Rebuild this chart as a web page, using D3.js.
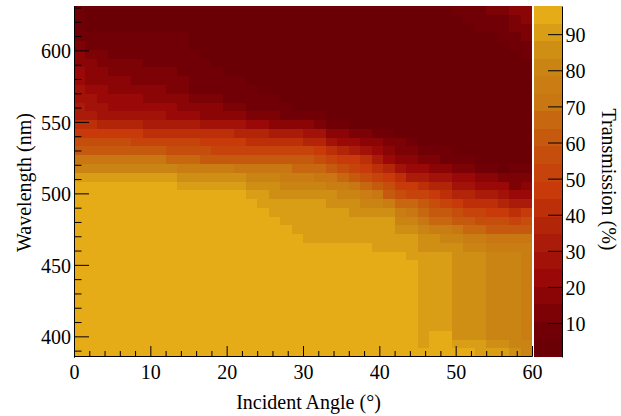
<!DOCTYPE html>
<html>
<head>
<meta charset="utf-8">
<script src="https://cdn.jsdelivr.net/npm/d3@7"></script>
<style>
  html, body { margin: 0; padding: 0; background: #fff; }
  svg { display: block; }
  text { font-family: "Liberation Serif", "Times New Roman", serif; font-size: 20px; fill: #000; }
</style>
</head>
<body>
<svg id="chart" width="621" height="416"></svg>
<script>
// Incident angle bin centres (degrees)
const angles = [0.75, 2.25, 3.75, 5.25, 6.75, 8.25, 9.75, 11.25, 12.75, 14.25,
  15.75, 17.25, 18.75, 20.25, 21.75, 23.25, 24.75, 26.25, 27.75, 29.25,
  30.75, 32.25, 33.75, 35.25, 36.75, 38.25, 39.75, 41.25, 42.75, 44.25,
  45.75, 47.25, 48.75, 50.25, 51.75, 53.25, 54.75, 56.25, 57.75, 59.25];

// Wavelength bin centres (nm), one per row of the transmission table, longest first
const wavelengths = [628.0, 621.9, 615.7, 609.6, 603.5, 597.3, 591.2, 585.0, 578.9, 572.8,
  566.6, 560.5, 554.3, 548.2, 542.1, 535.9, 529.8, 523.6, 517.5, 511.4,
  505.2, 499.1, 492.9, 486.8, 480.7, 474.5, 468.4, 462.2, 456.1, 450.0,
  443.8, 437.7, 431.5, 425.4, 419.3, 413.1, 407.0, 400.8, 394.7, 388.6];

// Transmission (%) per wavelength row (rows) and angle bin (columns)
const transmission = [
  [8,2,2,2,2,2,2,2,2,2, 1,1,1,1,1,1,1,1,1,1, 1,1,1,1,1,1,1,1,1,1, 1,2,2,8,8,8,13,13,18,18],
  [8,2,2,2,2,2,2,2,2,2, 1,1,1,1,1,1,1,1,1,1, 1,1,1,1,1,1,1,1,1,1, 1,2,2,2,8,8,8,8,13,18],
  [8,2,2,2,2,2,2,2,2,2, 1,1,1,1,1,1,1,1,1,1, 1,1,0.6,1,1,1,1,1,1,1, 1,2,2,2,2,8,8,8,13,13],
  [8,8,8,8,8,8,8,8,8,8, 1,1,1,1,1,1,1,1,1,1, 1,1,1,1,1,1,1,1,1,1, 1,2,2,2,2,2,2,8,8,13],
  [13,8,8,8,8,8,8,8,8,8, 1,1,1,1,1,1,1,1,1,1, 1,1,1,1,1,1,1,1,1,1, 1,2,2,2,2,2,2,2,8,8],
  [18,13,13,8,8,8,8,8,8,8, 8,1,1,1,1,1,1,1,1,1, 1,1,1,1,1,1,1,1,1,1, 1,2,2,2,2,2,2,2,2,8],
  [18,18,13,13,13,13,8,8,8,8, 8,8,1,1,1,1,1,1,1,1, 1,1,1,1,1,1,1,1,1,1, 1,2,2,2,2,2,2,2,2,2],
  [22,18,18,13,13,13,13,13,13,8, 8,8,8,1,1,1,1,1,1,1, 1,1,1,1,1,1,1,1,1,1, 1,2,2,2,2,2,2,2,2,2],
  [22,18,18,18,18,13,13,13,13,13, 8,8,8,8,8,1,1,1,1,1, 1,1,1,1,1,1,1,1,1,1, 1,2,2,2,2,2,2,2,2,2],
  [27,22,22,18,18,18,18,18,13,13, 8,8,8,8,8,8,2,2,2,2, 2,2,2,2,2,2,2,2,2,2, 2,2,2,2,2,2,2,2,2,2],
  [27,27,22,22,22,22,18,18,18,18, 13,13,13,8,8,8,8,8,2,2, 2,2,2,2,2,2,2,2,2,2, 2,2,2,2,2,2,2,2,2,2],
  [32,27,27,22,22,22,22,22,22,18, 18,18,18,13,13,8,8,8,8,2, 2,2,2,2,2,2,2,2,2,2, 2,2,2,2,2,2,2,2,2,2],
  [32,32,27,27,27,27,27,27,22,22, 22,18,18,18,18,13,13,13,8,8, 8,8,2,2,2,2,2,2,2,2, 2,2,2,2,2,2,2,2,2,2],
  [42,42,37,37,37,37,32,32,32,32, 32,27,27,27,27,22,22,18,18,18, 18,13,8,8,2,2,2,2,2,2, 2,2,2,2,2,2,2,2,2,2],
  [47,47,47,47,47,47,42,42,42,42, 42,42,42,42,37,37,37,32,32,32, 27,27,18,18,13,13,8,8,2,2, 2,2,2,2,2,2,2,2,2,2],
  [56,56,56,56,56,52,52,52,52,52, 52,47,47,47,47,42,42,42,42,42, 37,37,27,22,22,18,18,13,13,8, 2,2,2,2,2,2,2,2,2,2],
  [61,61,61,61,61,61,61,61,56,56, 56,56,52,52,52,52,52,52,52,52, 52,47,42,37,32,27,22,18,13,13, 8,8,8,2,2,2,2,2,2,2],
  [71,71,71,71,71,71,71,71,66,66, 66,61,61,61,61,61,61,61,61,61, 61,56,52,47,47,42,32,22,18,18, 13,13,8,8,8,2,2,2,2,2],
  [81,81,81,81,81,81,81,81,81,76, 76,76,76,76,71,71,71,71,71,66, 66,66,61,56,52,47,42,37,27,22, 22,18,18,13,13,8,8,2,8,8],
  [90,90,90,90,90,90,90,90,90,86, 86,86,86,86,86,81,81,81,76,76, 76,71,71,66,61,56,52,47,42,32, 32,27,27,22,22,18,18,13,13,13],
  [96,96,96,96,96,96,96,96,96,90, 90,90,90,90,90,86,86,86,81,81, 81,81,76,76,71,66,61,56,47,47, 42,37,37,27,27,22,22,22,13,18],
  [96,96,96,96,96,96,96,96,96,96, 96,96,96,96,96,90,90,86,86,86, 86,86,86,81,81,76,71,61,56,52, 52,47,42,37,37,32,32,27,22,22],
  [96,96,96,96,96,96,96,96,96,96, 96,96,96,96,96,96,90,90,90,90, 90,90,86,86,86,81,81,76,66,66, 61,56,52,47,42,42,42,37,32,32],
  [96,96,96,96,96,96,96,96,96,96, 96,96,96,96,96,96,96,90,90,90, 90,90,90,90,86,86,86,86,76,71, 66,61,61,56,52,52,47,47,42,47],
  [96,96,96,96,96,96,96,96,96,96, 96,96,96,96,96,96,96,96,90,90, 90,90,90,90,90,90,90,90,81,81, 71,66,66,61,61,56,56,56,52,56],
  [96,96,96,96,96,96,96,96,96,96, 96,96,96,96,96,96,96,96,96,90, 90,90,90,90,90,90,90,90,86,86, 81,76,76,71,66,66,61,61,61,61],
  [96,96,96,96,96,96,96,96,96,96, 96,96,96,96,96,96,96,96,96,96, 90,90,90,90,90,90,90,90,90,90, 86,86,81,81,76,76,71,71,71,71],
  [96,96,96,96,96,96,96,96,96,96, 96,96,96,96,96,96,96,96,96,96, 96,96,96,96,96,96,90,90,90,90, 86,86,86,86,81,81,76,76,76,76],
  [97,97,97,97,97,97,97,97,97,97, 97,97,97,97,97,97,97,97,97,97, 96,96,96,96,96,96,96,96,96,90, 90,90,90,86,86,86,81,81,81,76],
  [97,97,97,97,97,97,97,97,97,97, 97,97,97,97,97,97,97,97,97,97, 96,96,96,96,96,96,96,96,96,96, 90,90,90,86,86,86,81,81,81,76],
  [97,97,97,97,97,97,97,97,97,97, 97,97,97,97,97,97,97,97,97,97, 96,96,96,96,96,96,96,96,96,96, 90,90,90,86,86,86,81,81,81,76],
  [97,97,97,97,97,97,97,97,97,97, 97,97,97,97,97,97,97,97,97,97, 96,96,96,96,96,96,96,96,96,96, 90,90,90,86,86,86,81,81,81,76],
  [97,97,97,97,97,97,97,97,97,97, 97,97,97,97,97,97,97,97,97,97, 96,96,96,96,96,96,96,96,96,96, 90,90,90,86,86,86,81,81,81,76],
  [97,97,97,97,97,97,97.8,97,97,97, 97,97,97,97,97,97,97,97,97,97, 96,96,96,96,96,96,96,96,96,96, 90,90,90,86,86,86,81,81,81,76],
  [97,97,97,97,97,97,97,97,97,97, 97,97,97,97,97,97,97,97,97,97, 96,96,96,96,96,96,96,96,96,96, 90,90,90,86,86,86,81,81,81,76],
  [97,97,97,97,97,97,97,97,97,97, 97,97,97,97,97,97,97,97,97,97, 96,96,96,96,96,96,96,96,96,96, 90,90,90,86,86,86,81,81,81,76],
  [97,97,97,97,97,97,97,97,97,97, 97,97,97,97,97,97,97,97,97,97, 96,96,96,96,96,96,96,96,96,96, 90,90,90,86,86,86,81,81,81,76],
  [97,97,97,97,97,97,97,97,97,97, 97,97,97,97,97,97,97,97,97,97, 96,96,96,96,96,96,96,96,96,96, 90,96,96,86,86,86,81,81,81,76],
  [97,97,97,97,97,97,97,97,97,97, 97,97,97,97,97,97,97,97,97,97, 96,96,96,96,96,96,96,96,96,96, 90,96,96,90,90,90,86,86,81,81],
  [97,97,97,97,97,97,97,97,97,97, 97,97,97,97,97,97,97,97,97,97, 96,96,96,96,96,96,96,96,96,96, 96,96,96,96,96,90,90,90,86,81]
];

// Axis tick labels
const angleTicks = [0, 10, 20, 30, 40, 50, 60];
const wavelengthTicks = [400, 450, 500, 550, 600];
const transmissionTicks = [10, 20, 30, 40, 50, 60, 70, 80, 90];

// Colour palette: "Solar" gradient, 9 stops, sampled into 255 shades, 20 contour levels
const paletteStops = [0, 0.125, 0.25, 0.375, 0.5, 0.625, 0.75, 0.875, 1];
const paletteRed   = [99, 116, 154, 174, 200, 196, 201, 201, 230];
const paletteGreen = [0, 0, 8, 32, 58, 83, 119, 136, 173];
const paletteBlue  = [5, 6, 7, 9, 9, 14, 18, 19, 24];
const nShades = 255;
const nContours = 20;

const shades = [];
for (let g = 1; g < paletteStops.length; g++) {
  const n = Math.floor(nShades * paletteStops[g]) - Math.floor(nShades * paletteStops[g - 1]);
  for (let c = 0; c < n; c++) {
    const t = c / n;
    shades.push(d3.rgb(
      paletteRed[g - 1] + t * (paletteRed[g] - paletteRed[g - 1]),
      paletteGreen[g - 1] + t * (paletteGreen[g] - paletteGreen[g - 1]),
      paletteBlue[g - 1] + t * (paletteBlue[g] - paletteBlue[g - 1])
    ).formatHex());
  }
}

const allValues = transmission.flat();
const [zMin, zMax] = d3.extent(allValues);
const dz = (zMax - zMin) / nContours;
const levelOf = v => Math.max(0, Math.min(nContours - 1, Math.floor((v - zMin) / dz)));
const levelColor = L => shades[Math.floor((L + 0.99) * nShades / nContours)];

// Layout
const frame = { left: 74, right: 532, top: 6, bottom: 357 };
const bar = { left: 534, right: 562 };

// Bin edges half-way between neighbouring centres
function binEdges(c) {
  return c.map((v, i) => {
    const prev = i > 0 ? c[i - 1] : v - (c[i + 1] - v);
    const next = i < c.length - 1 ? c[i + 1] : v + (v - c[i - 1]);
    const a = (prev + v) / 2, b = (v + next) / 2;
    return [Math.min(a, b), Math.max(a, b)];
  });
}
const angleEdges = binEdges(angles);
const waveEdges = binEdges(wavelengths);

const x = d3.scaleLinear()
  .domain(d3.extent(angleEdges.flat()))
  .range([frame.left, frame.right]);
const y = d3.scaleLinear()
  .domain(d3.extent(waveEdges.flat()))
  .range([frame.bottom, frame.top]);
const z = d3.scaleLinear()
  .domain([zMin, zMax])
  .range([frame.bottom, frame.top]);

const svg = d3.select('#chart');

// Heat map cells
const cells = transmission.flatMap((row, i) => row.map((v, j) => ({ i, j, v })));
svg.append('g')
  .attr('shape-rendering', 'crispEdges')
  .selectAll('rect')
  .data(cells)
  .join('rect')
  .attr('x', d => x(angleEdges[d.j][0]))
  .attr('width', d => x(angleEdges[d.j][1]) - x(angleEdges[d.j][0]))
  .attr('y', d => y(waveEdges[d.i][1]))
  .attr('height', d => y(waveEdges[d.i][0]) - y(waveEdges[d.i][1]))
  .attr('fill', d => levelColor(levelOf(d.v)));

// Colour bar
const levels = d3.range(nContours);
svg.append('g')
  .attr('shape-rendering', 'crispEdges')
  .selectAll('rect')
  .data(levels)
  .join('rect')
  .attr('x', bar.left)
  .attr('width', bar.right - bar.left)
  .attr('y', L => z(zMin + (L + 1) * dz))
  .attr('height', L => z(zMin + L * dz) - z(zMin + (L + 1) * dz))
  .attr('fill', L => levelColor(L));

// X axis (ticks inside the frame)
const xMinor = d3.range(0, 61, 2).filter(v => !angleTicks.includes(v));
const gx = svg.append('g').attr('transform', `translate(0,${frame.bottom - 1})`);
gx.call(d3.axisBottom(x).tickValues(xMinor).tickSizeInner(-5).tickSizeOuter(0).tickFormat(''));
gx.append('g').call(d3.axisBottom(x).tickValues(angleTicks).tickSizeInner(-10).tickSizeOuter(0)
  .tickPadding(0).tickFormat(d3.format('d')));
gx.selectAll('text').attr('y', 23).attr('dy', null);

// Y axis
const yMinor = d3.range(390, 631, 10).filter(v => !wavelengthTicks.includes(v));
const gy = svg.append('g').attr('transform', `translate(${frame.left},0)`);
gy.call(d3.axisLeft(y).tickValues(yMinor).tickSizeInner(-7.5).tickSizeOuter(0).tickFormat(''));
gy.append('g').call(d3.axisLeft(y).tickValues(wavelengthTicks).tickSizeInner(-15).tickSizeOuter(0)
  .tickPadding(0).tickFormat(d3.format('d')));
gy.selectAll('text').attr('x', -3).attr('y', 7.3).attr('dy', null);

// Colour bar axis
const gz = svg.append('g').attr('transform', `translate(${bar.right},0)`);
gz.call(d3.axisRight(z).tickValues(transmissionTicks).tickSizeInner(-14).tickSizeOuter(0)
  .tickPadding(0).tickFormat(d3.format('d')));
gz.selectAll('text').attr('x', 3.5).attr('y', 7.7).attr('dy', null);

// Axis titles
svg.append('text')
  .attr('x', 308.5).attr('y', 409.3)
  .attr('text-anchor', 'middle')
  .text('Incident Angle (°)');
svg.append('text')
  .attr('transform', `translate(30.5,${(frame.top + frame.bottom) / 2 + 1}) rotate(-90)`)
  .attr('text-anchor', 'middle')
  .text('Wavelength (nm)');
svg.append('text')
  .attr('transform', `translate(602,${(frame.top + frame.bottom) / 2 - 2}) rotate(90)`)
  .attr('text-anchor', 'middle')
  .text('Transmission (%)');
</script>
</body>
</html>
